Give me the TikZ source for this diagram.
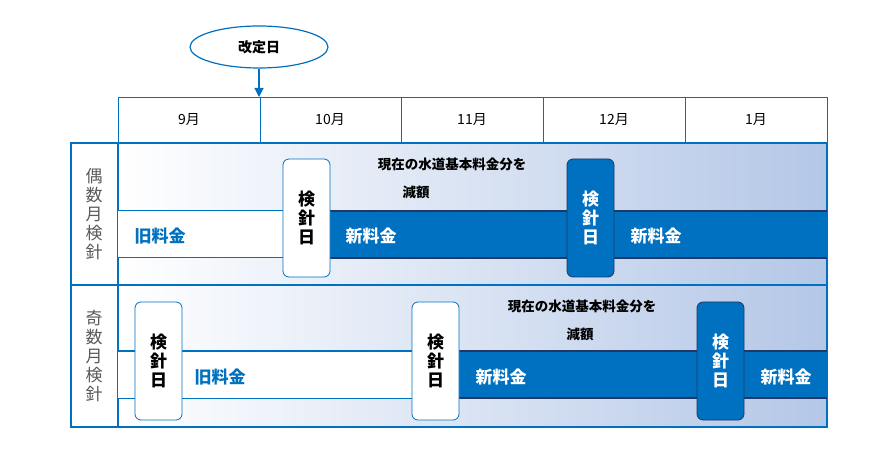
\documentclass[tikz,border=0pt]{standalone}
\usepackage{fontspec}
\setmainfont{Noto Sans CJK JP}
\usetikzlibrary{shapes.geometric,arrows.meta}
\definecolor{kblue}{HTML}{0070C0}
\definecolor{kdark}{HTML}{1F3864}
\definecolor{kpale}{HTML}{B4C7E7}
\tikzset{
  kenshin/.style={draw=kblue, rounded corners=6pt, line width=0.8pt, minimum width=47pt, minimum height=118pt, inner sep=0pt, align=center, font=\bfseries\fontsize{17}{19}\selectfont},
  fee/.style={font=\bfseries\fontsize{17}{19}\selectfont},
  note/.style={font=\bfseries\fontsize{13.5}{15}\selectfont},
  month/.style={font=\fontsize{14}{16}\selectfont},
}
\begin{document}
\begin{tikzpicture}[x=1pt,y=-1pt]
        \useasboundingbox (0,0) rectangle (887,457);

        % 月の見出し
        \draw[kblue, line width=0.8pt] (118,97) rectangle (827,143);
        \foreach \x in {260,401,543,685} \draw[kblue, line width=0.8pt] (\x,97) -- (\x,143);
        \node[month] (m9) at (189,120) {9月};
        \node[month] (m10) at (330,120) {10月};
        \node[month] (m11) at (472,120) {11月};
        \node[month] (m12) at (614,120) {12月};
        \node[month] (m1) at (756,120) {1月};

        % 改定日
        \node[ellipse, draw=kblue, line width=1.2pt, fill=white, minimum width=138pt, minimum height=42pt, font=\bfseries\fontsize{14}{16}\selectfont] (kaitei) at (259,47) {改定日};
        \coordinate (kt) at (259,97);
        \draw[kblue, line width=1.2pt, -{Triangle[length=9pt,width=9pt]}] (kaitei) -- (kt);

        % 背景
        \shade[left color=white, right color=kpale] (118,143) rectangle (827,285);
        \shade[left color=white, right color=kpale] (118,285) rectangle (827,427);
        \draw[kblue, line width=1.2pt] (71,143) rectangle (827,427);
        \draw[kblue, line width=1.2pt] (118,143) -- (118,427);
        \draw[kblue, line width=1.2pt] (71,285) -- (827,285);
        \node[align=center, text=black!65, font=\fontsize{17}{19}\selectfont] (even) at (94,214) {偶\\数\\月\\検\\針};
        \node[align=center, text=black!65, font=\fontsize{17}{19}\selectfont] (odd) at (94,356) {奇\\数\\月\\検\\針};

        % 偶数月
        \fill[white] (118,211) rectangle (283,258);
        \draw[kblue, line width=1pt] (118,211) -- (283,211) (118,258) -- (283,258);
        \fill[kblue] (330,211) rectangle (827,258);
        \draw[kdark, line width=1.2pt] (330,211) -- (827,211) (330,258) -- (827,258);
        \node[kenshin, fill=white] (e1) at (306.5,218) {検\\針\\日};
        \node[kenshin, fill=kblue, draw=kdark, text=white] (e2) at (590.5,218) {検\\針\\日};
        \node[fee, text=kblue] (eold) at (160,236) {旧料金};
        \node[fee, text=white] (enew1) at (371,236) {新料金};
        \node[fee, text=white] (enew2) at (656,236) {新料金};
        \node[note] (en1) at (452,164) {現在の水道基本料金分を};
        \node[note] (en2) at (416,192) {減額};

        % 奇数月
        \fill[white] (118,351) rectangle (412,398);
        \draw[kblue, line width=1pt] (118,351) -- (412,351) (118,398) -- (412,398);
        \fill[kblue] (459,351) rectangle (827,398);
        \draw[kdark, line width=1.2pt] (459,351) -- (827,351) (459,398) -- (827,398);
        \node[kenshin, fill=white] (o1) at (158.5,361) {検\\針\\日};
        \node[kenshin, fill=white] (o2) at (435.5,361) {検\\針\\日};
        \node[kenshin, fill=kblue, draw=kdark, text=white] (o3) at (720.5,361) {検\\針\\日};
        \node[fee, text=kblue] (oold) at (220,377) {旧料金};
        \node[fee, text=white] (onew1) at (501,377) {新料金};
        \node[fee, text=white] (onew2) at (786,377) {新料金};
        \node[note] (on1) at (582,306) {現在の水道基本料金分を};
        \node[note] (on2) at (580,334) {減額};

\end{tikzpicture}
\end{document}
